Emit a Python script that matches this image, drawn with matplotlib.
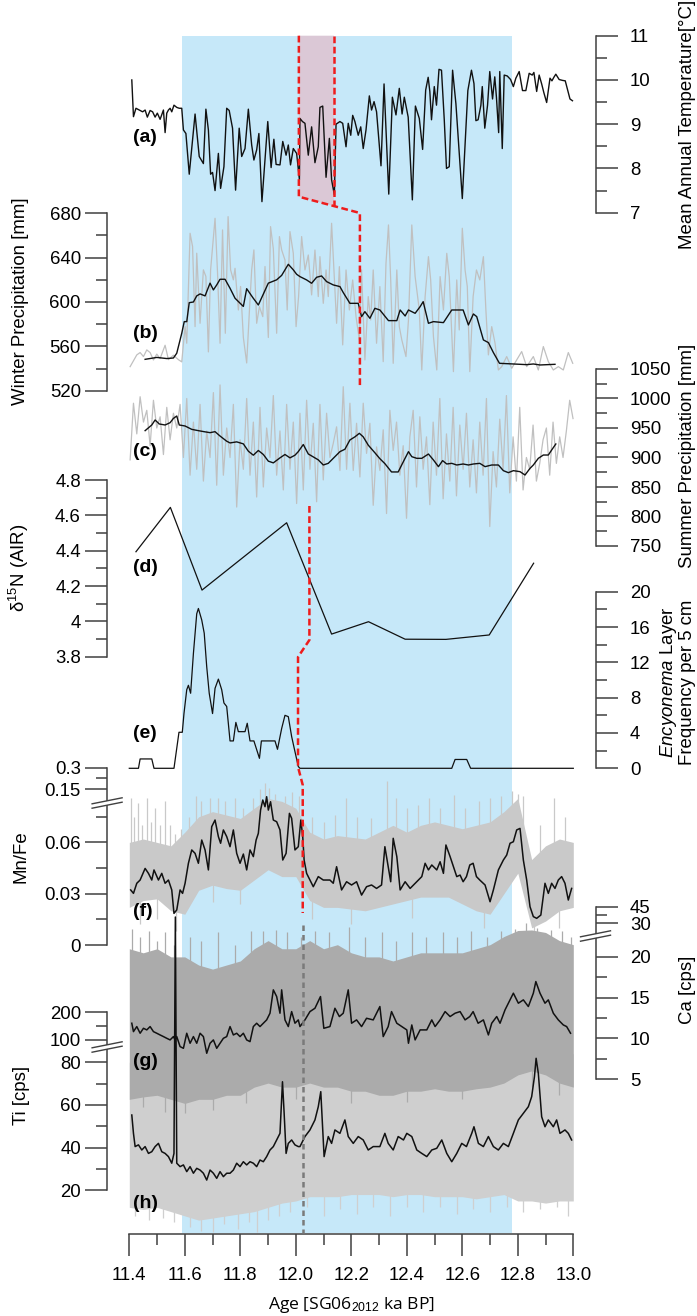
import matplotlib
matplotlib.use("Agg")
import matplotlib.pyplot as plt
import numpy as np

plt.rcParams["font.family"] = ["Liberation Sans", "DejaVu Sans"]
plt.rcParams["mathtext.fontset"] = "custom"
plt.rcParams["mathtext.rm"] = "Liberation Sans"
plt.rcParams["mathtext.it"] = "Liberation Sans:italic"
plt.rcParams["mathtext.bf"] = "Liberation Sans:bold"

# ---------------- data (age in ka BP, value) ----------------
# (a) mean annual temperature [degC]
mat_a = [(11.409, 10.00), (11.415, 9.17), (11.424, 9.36), (11.436, 9.32), (11.448, 9.28), (11.457, 9.32),
         (11.465, 9.16), (11.475, 9.31), (11.484, 9.28), (11.493, 9.16), (11.501, 9.25), (11.511, 9.11),
         (11.523, 9.32), (11.529, 8.81), (11.535, 9.25), (11.541, 9.32), (11.547, 9.36), (11.553, 9.28),
         (11.561, 9.43), (11.571, 9.38), (11.580, 9.36), (11.589, 9.36), (11.595, 8.87), (11.604, 8.79),
         (11.616, 7.87), (11.637, 9.23), (11.652, 8.27), (11.667, 8.11), (11.676, 9.34), (11.685, 8.87),
         (11.693, 7.87), (11.700, 7.91), (11.709, 7.50), (11.721, 8.34), (11.729, 7.55), (11.741, 8.04),
         (11.751, 9.36), (11.760, 9.31), (11.772, 8.91), (11.783, 7.51), (11.796, 8.91), (11.805, 8.27),
         (11.817, 8.45), (11.829, 9.34), (11.841, 8.53), (11.849, 8.19), (11.859, 8.42), (11.867, 8.79),
         (11.878, 7.25), (11.899, 9.06), (11.911, 8.02), (11.921, 8.66), (11.929, 8.09), (11.943, 8.08),
         (11.953, 8.61), (11.965, 8.30), (11.973, 8.53), (11.981, 8.08), (11.991, 8.45), (12.003, 8.34),
         (12.013, 7.75), (12.015, 9.13), (12.024, 9.06), (12.033, 9.02), (12.045, 8.30), (12.057, 8.94),
         (12.069, 8.13), (12.081, 8.49), (12.087, 9.38), (12.097, 9.41), (12.109, 7.80), (12.121, 8.68),
         (12.129, 7.74), (12.139, 7.40), (12.145, 9.00), (12.159, 9.06), (12.169, 9.02), (12.181, 8.49),
         (12.189, 9.02), (12.198, 8.75), (12.205, 9.20), (12.213, 9.06), (12.225, 8.75), (12.234, 8.94),
         (12.243, 8.45), (12.253, 8.87), (12.265, 9.64), (12.273, 9.32), (12.282, 9.51), (12.291, 9.28),
         (12.307, 8.06), (12.318, 9.91), (12.335, 7.42), (12.348, 9.61), (12.361, 9.21), (12.373, 9.81),
         (12.383, 9.23), (12.391, 9.61), (12.405, 9.16), (12.420, 7.29), (12.431, 9.41), (12.445, 9.13),
         (12.457, 8.43), (12.468, 9.77), (12.477, 10.06), (12.483, 9.74), (12.489, 9.10), (12.499, 9.85),
         (12.507, 9.43), (12.516, 10.24), (12.525, 10.22), (12.535, 9.10), (12.543, 8.00), (12.553, 8.04),
         (12.565, 10.22), (12.577, 9.46), (12.600, 7.32), (12.620, 9.76), (12.633, 10.22), (12.642, 9.92),
         (12.649, 9.08), (12.657, 9.10), (12.667, 9.43), (12.672, 9.85), (12.681, 8.91), (12.691, 9.43),
         (12.699, 10.19), (12.709, 9.57), (12.717, 10.07), (12.723, 9.61), (12.731, 8.81), (12.735, 10.19),
         (12.744, 8.45), (12.751, 10.11), (12.762, 10.09), (12.774, 10.01), (12.784, 9.85), (12.793, 10.04),
         (12.805, 10.19), (12.817, 9.76), (12.829, 9.76), (12.841, 10.15), (12.852, 10.11), (12.858, 10.17),
         (12.868, 9.74), (12.877, 10.11), (12.886, 9.91), (12.894, 9.71), (12.904, 9.49), (12.916, 10.04),
         (12.923, 9.98), (12.930, 10.06), (12.937, 10.13), (12.949, 10.01), (12.961, 9.99), (12.971, 9.98),
         (12.988, 9.57), (12.997, 9.53)]

# (b) winter precipitation [mm], raw and smoothed
winter_raw = [(11.403, 541.7), (11.427, 552.3), (11.439, 554.4), (11.451, 550.8), (11.463, 556.8), (11.475, 554.4),
              (11.487, 547.7), (11.499, 553.0), (11.511, 549.0), (11.529, 561.0), (11.541, 548.0), (11.559, 552.0),
              (11.577, 548.0), (11.589, 546.0), (11.601, 577.8), (11.607, 562.8), (11.619, 662.0), (11.628, 650.0),
              (11.637, 577.8), (11.643, 644.0), (11.655, 580.8), (11.667, 629.0), (11.676, 623.0), (11.685, 555.0),
              (11.693, 629.0), (11.709, 675.5), (11.718, 626.0), (11.727, 562.8), (11.736, 665.0), (11.746, 571.8),
              (11.756, 677.0), (11.765, 629.0), (11.775, 620.0), (11.781, 630.4), (11.793, 592.8), (11.801, 614.0),
              (11.811, 568.0), (11.823, 545.0), (11.833, 592.8), (11.841, 629.0), (11.849, 647.0), (11.859, 580.8),
              (11.869, 595.8), (11.881, 586.8), (11.889, 632.0), (11.901, 568.0), (11.909, 668.0), (11.919, 648.0),
              (11.931, 571.8), (11.941, 659.0), (11.949, 647.0), (11.961, 637.9), (11.969, 592.8), (11.979, 663.5),
              (11.991, 643.9), (12.001, 577.8), (12.010, 604.9), (12.021, 659.0), (12.033, 628.9), (12.045, 642.4),
              (12.057, 606.4), (12.069, 646.9), (12.081, 604.9), (12.087, 640.9), (12.099, 598.8), (12.109, 628.9),
              (12.117, 604.9), (12.129, 671.0), (12.139, 619.9), (12.147, 580.8), (12.157, 631.9), (12.169, 561.3),
              (12.181, 628.9), (12.193, 592.8), (12.205, 619.9), (12.217, 586.8), (12.229, 565.8), (12.237, 628.9),
              (12.249, 547.7), (12.261, 604.9), (12.270, 583.8), (12.279, 628.9), (12.291, 562.8), (12.303, 613.9),
              (12.315, 546.2), (12.325, 634.9), (12.334, 669.5), (12.342, 619.9), (12.351, 544.7), (12.364, 628.9),
              (12.373, 577.8), (12.382, 565.8), (12.397, 550.8), (12.406, 583.8), (12.418, 669.5), (12.430, 622.9),
              (12.445, 592.8), (12.454, 538.7), (12.466, 604.9), (12.478, 640.9), (12.486, 619.9), (12.496, 568.8),
              (12.508, 538.7), (12.520, 622.9), (12.532, 592.8), (12.544, 643.9), (12.553, 622.9), (12.568, 537.2),
              (12.580, 619.9), (12.589, 574.8), (12.600, 666.5), (12.610, 628.9), (12.618, 613.9), (12.627, 537.2),
              (12.639, 604.9), (12.651, 628.9), (12.663, 619.9), (12.676, 640.9), (12.685, 592.8), (12.694, 552.3),
              (12.706, 577.8), (12.718, 562.8), (12.730, 538.7), (12.742, 541.7), (12.760, 550.8), (12.778, 540.2),
              (12.796, 547.7), (12.814, 555.3), (12.832, 541.7), (12.856, 550.8), (12.874, 538.7), (12.892, 559.8),
              (12.910, 546.2), (12.928, 538.7), (12.946, 541.7), (12.964, 538.7), (12.982, 554.4), (12.998, 544.7)]
winter_mean = [(11.457, 548.3), (11.499, 550.0), (11.535, 549.0), (11.559, 549.5), (11.571, 553.8), (11.589, 571.8),
               (11.598, 582.3), (11.607, 582.3), (11.616, 599.4), (11.631, 600.0), (11.643, 605.5), (11.655, 607.3),
               (11.673, 605.5), (11.691, 617.0), (11.703, 610.9), (11.715, 615.4), (11.727, 620.5), (11.745, 620.5),
               (11.763, 612.4), (11.781, 603.4), (11.811, 596.0), (11.823, 612.0), (11.845, 604.0), (11.865, 597.3),
               (11.901, 617.0), (11.931, 620.0), (11.949, 624.0), (11.973, 634.0), (11.991, 629.0), (12.003, 625.0),
               (12.015, 622.9), (12.039, 619.9), (12.057, 616.9), (12.075, 622.3), (12.093, 623.5), (12.111, 618.4),
               (12.135, 615.4), (12.159, 613.9), (12.171, 608.5), (12.195, 598.8), (12.225, 598.8), (12.237, 586.8),
               (12.249, 591.3), (12.267, 585.3), (12.285, 594.3), (12.303, 592.8), (12.334, 583.2), (12.364, 583.2),
               (12.376, 592.8), (12.394, 587.4), (12.406, 592.8), (12.430, 589.8), (12.448, 595.8), (12.459, 600.3),
               (12.478, 580.8), (12.496, 582.3), (12.532, 581.4), (12.562, 592.8), (12.603, 592.8), (12.622, 579.3),
               (12.640, 589.2), (12.652, 586.8), (12.676, 565.8), (12.694, 563.4), (12.712, 554.4), (12.734, 544.7),
               (12.784, 544.1), (12.832, 543.5), (12.856, 544.1), (12.880, 543.2), (12.934, 543.8)]

# (c) summer precipitation [mm], raw and smoothed
summer_raw = [(11.403, 896), (11.415, 992), (11.427, 940), (11.439, 1003), (11.451, 960), (11.463, 980),
              (11.475, 920), (11.487, 997), (11.499, 950), (11.511, 969), (11.523, 905), (11.535, 985),
              (11.547, 930), (11.559, 975), (11.571, 950), (11.583, 990), (11.595, 900), (11.607, 1000),
              (11.619, 870), (11.631, 960), (11.643, 880), (11.655, 990), (11.667, 860), (11.679, 945),
              (11.691, 900), (11.703, 1010), (11.715, 853), (11.727, 1023), (11.739, 870), (11.751, 950),
              (11.763, 900), (11.775, 990), (11.787, 816), (11.799, 930), (11.811, 880), (11.823, 1000),
              (11.835, 870), (11.847, 960), (11.859, 833), (11.871, 985), (11.883, 850), (11.895, 950),
              (11.907, 900), (11.919, 1005), (11.931, 870), (11.943, 945), (11.955, 845), (11.967, 990),
              (11.979, 880), (11.991, 960), (12.003, 822), (12.015, 975), (12.027, 845), (12.039, 997),
              (12.051, 880), (12.063, 958), (12.075, 825), (12.087, 990), (12.099, 862), (12.111, 975),
              (12.123, 900), (12.135, 924), (12.147, 952), (12.159, 878), (12.171, 1020), (12.183, 880),
              (12.195, 992), (12.207, 878), (12.219, 958), (12.231, 867), (12.243, 992), (12.255, 907),
              (12.267, 958), (12.279, 819), (12.291, 918), (12.303, 878), (12.315, 947), (12.327, 805),
              (12.339, 980), (12.351, 912), (12.363, 960), (12.375, 870), (12.387, 920), (12.399, 797),
              (12.411, 935), (12.423, 980), (12.435, 850), (12.447, 969), (12.459, 880), (12.471, 935),
              (12.483, 820), (12.495, 960), (12.507, 870), (12.519, 1000), (12.531, 830), (12.543, 940),
              (12.555, 860), (12.567, 985), (12.579, 835), (12.591, 955), (12.603, 880), (12.615, 975),
              (12.627, 850), (12.639, 930), (12.651, 840), (12.663, 960), (12.675, 870), (12.687, 1000),
              (12.699, 783), (12.711, 910), (12.723, 850), (12.735, 965), (12.747, 880), (12.759, 1005),
              (12.771, 840), (12.783, 935), (12.795, 860), (12.807, 985), (12.819, 845), (12.831, 900),
              (12.843, 880), (12.855, 955), (12.867, 860), (12.879, 890), (12.891, 930), (12.903, 950),
              (12.915, 870), (12.927, 960), (12.939, 890), (12.951, 935), (12.963, 900), (12.975, 945),
              (12.987, 997), (12.999, 966)]
summer_mean = [(11.457, 945.5), (11.481, 955.1), (11.493, 963.6), (11.508, 956.8), (11.529, 955.1), (11.547, 959.0),
               (11.559, 966.3), (11.571, 970.3), (11.580, 955.1), (11.601, 953.4), (11.625, 947.7), (11.649, 945.5),
               (11.669, 943.8), (11.691, 942.1), (11.709, 943.8), (11.727, 936.4), (11.751, 927.6), (11.763, 924.7),
               (11.787, 926.5), (11.811, 923.1), (11.829, 910.7), (11.847, 903.9), (11.865, 911.9), (11.883, 905.1),
               (11.901, 893.8), (11.919, 890.9), (11.943, 899.4), (11.961, 905.1), (11.979, 899.4), (11.997, 903.9),
               (12.009, 910.0), (12.027, 922.0), (12.045, 906.0), (12.063, 901.0), (12.081, 896.0), (12.099, 887.3),
               (12.117, 890.1), (12.135, 898.6), (12.159, 909.9), (12.177, 914.0), (12.195, 929.7), (12.213, 935.0),
               (12.229, 941.0), (12.243, 935.0), (12.261, 921.0), (12.285, 908.0), (12.303, 898.0), (12.321, 889.6),
               (12.345, 875.5), (12.369, 875.5), (12.387, 892.4), (12.406, 909.9), (12.418, 901.4), (12.436, 898.6),
               (12.454, 898.6), (12.478, 905.9), (12.496, 895.8), (12.514, 884.5), (12.529, 894.7), (12.544, 889.0),
               (12.562, 890.1), (12.580, 887.3), (12.603, 889.0), (12.622, 887.3), (12.640, 889.0), (12.663, 890.1),
               (12.682, 884.5), (12.706, 887.3), (12.730, 887.3), (12.748, 877.7), (12.766, 874.3), (12.784, 877.7),
               (12.808, 876.0), (12.826, 870.3), (12.844, 881.6), (12.856, 887.3), (12.874, 898.6), (12.892, 904.2),
               (12.910, 904.2), (12.922, 912.7), (12.937, 922.9)]

# (d) d15N (AIR)
d15n = [(11.424, 4.394), (11.548, 4.645), (11.662, 4.177), (11.967, 4.558), (12.129, 3.928),
        (12.262, 3.998), (12.394, 3.899), (12.541, 3.898), (12.697, 3.923), (12.857, 4.329)]

# (e) Encyonema layer frequency per 5 cm
encyonema = [(11.400, 0), (11.433, 0), (11.439, 1.06), (11.481, 1.06), (11.489, 0), (11.561, 0), (11.579, 4.08),
             (11.591, 4.08), (11.597, 6.2), (11.607, 8.9), (11.613, 9.4), (11.621, 8.5), (11.631, 13.0),
             (11.643, 17.5), (11.649, 18.1), (11.661, 16.8), (11.670, 15.3), (11.679, 11.5), (11.688, 8.5),
             (11.700, 6.2), (11.709, 9.06), (11.721, 10.1), (11.733, 8.9), (11.741, 7.4), (11.751, 7.0),
             (11.763, 3.1), (11.775, 3.1), (11.784, 5.2), (11.793, 4.15), (11.817, 4.15), (11.825, 5.1),
             (11.835, 3.1), (11.849, 3.1), (11.869, 1.13), (11.876, 3.1), (11.925, 3.1), (11.934, 2.15),
             (11.949, 4.5), (11.961, 6.0), (11.973, 5.85), (11.985, 3.6), (11.993, 2.45), (12.009, 0.2),
             (12.015, 0), (12.562, 0), (12.574, 1.0), (12.616, 1.0), (12.630, 0), (13.000, 0)]

# (f) Mn/Fe smoothed
mnfe = [(11.405, 0.0322), (11.415, 0.0302), (11.427, 0.0361), (11.439, 0.0380), (11.457, 0.0448), (11.469, 0.0419),
        (11.481, 0.0380), (11.489, 0.0439), (11.505, 0.0380), (11.517, 0.0419), (11.529, 0.0361), (11.541, 0.0380),
        (11.553, 0.0322), (11.561, 0.0185), (11.571, 0.0205), (11.583, 0.0322), (11.592, 0.0302), (11.601, 0.0361),
        (11.613, 0.0478), (11.625, 0.0556), (11.637, 0.0536), (11.649, 0.0478), (11.661, 0.0614), (11.673, 0.0556),
        (11.685, 0.0439), (11.697, 0.0692), (11.709, 0.0731), (11.721, 0.0634), (11.729, 0.0595), (11.739, 0.0673),
        (11.751, 0.0634), (11.763, 0.0575), (11.775, 0.0673), (11.787, 0.0536), (11.799, 0.0478), (11.811, 0.0532),
        (11.823, 0.0439), (11.835, 0.0556), (11.847, 0.0517), (11.857, 0.0614), (11.865, 0.0653), (11.873, 0.0789),
        (11.881, 0.0848), (11.889, 0.0809), (11.895, 0.0980), (11.901, 0.0789), (11.909, 0.0838), (11.919, 0.0731),
        (11.931, 0.0721), (11.943, 0.0673), (11.953, 0.0497), (11.965, 0.0536), (11.977, 0.0770), (11.985, 0.0741),
        (11.997, 0.0556), (12.009, 0.0575), (12.018, 0.0731), (12.025, 0.0634), (12.030, 0.0497), (12.039, 0.0419),
        (12.051, 0.0380), (12.063, 0.0341), (12.081, 0.0400), (12.099, 0.0380), (12.123, 0.0380), (12.135, 0.0361),
        (12.147, 0.0458), (12.165, 0.0322), (12.183, 0.0370), (12.201, 0.0351), (12.219, 0.0370), (12.237, 0.0292),
        (12.255, 0.0341), (12.273, 0.0351), (12.291, 0.0331), (12.309, 0.0351), (12.321, 0.0575), (12.333, 0.0458),
        (12.342, 0.0370), (12.351, 0.0624), (12.364, 0.0517), (12.376, 0.0322), (12.394, 0.0370), (12.412, 0.0331),
        (12.436, 0.0370), (12.454, 0.0400), (12.466, 0.0478), (12.478, 0.0439), (12.490, 0.0468), (12.508, 0.0439),
        (12.520, 0.0487), (12.532, 0.0419), (12.541, 0.0585), (12.556, 0.0517), (12.568, 0.0458), (12.580, 0.0400),
        (12.592, 0.0409), (12.603, 0.0370), (12.615, 0.0400), (12.627, 0.0468), (12.639, 0.0478), (12.651, 0.0400),
        (12.663, 0.0380), (12.682, 0.0351), (12.700, 0.0253), (12.712, 0.0322), (12.730, 0.0439), (12.748, 0.0497),
        (12.760, 0.0526), (12.772, 0.0595), (12.784, 0.0604), (12.796, 0.0673), (12.808, 0.0682), (12.820, 0.0497),
        (12.832, 0.0380), (12.844, 0.0224), (12.856, 0.0166), (12.868, 0.0156), (12.883, 0.0175), (12.898, 0.0361),
        (12.910, 0.0302), (12.922, 0.0361), (12.934, 0.0331), (12.946, 0.0380), (12.958, 0.0400), (12.970, 0.0361),
        (12.982, 0.0263), (12.994, 0.0331)]

# (g) Ca [cps] smoothed
ca = [(11.409, 11.85), (11.415, 10.82), (11.427, 11.44), (11.439, 10.62), (11.451, 11.23), (11.463, 11.03),
      (11.475, 11.44), (11.487, 10.82), (11.499, 10.62), (11.511, 10.41), (11.523, 10.21), (11.535, 10.00),
      (11.547, 9.80), (11.559, 10.21), (11.565, 9.80), (11.571, 10.21), (11.583, 8.98), (11.595, 8.77),
      (11.607, 10.62), (11.619, 9.39), (11.631, 10.21), (11.643, 9.39), (11.655, 10.62), (11.667, 10.21),
      (11.679, 8.16), (11.691, 9.39), (11.703, 9.80), (11.715, 8.77), (11.727, 9.39), (11.739, 10.00),
      (11.751, 10.21), (11.763, 11.44), (11.775, 10.41), (11.787, 10.62), (11.799, 10.21), (11.811, 10.62),
      (11.823, 9.80), (11.835, 9.59), (11.847, 11.44), (11.859, 11.85), (11.871, 11.44), (11.883, 11.85),
      (11.895, 12.26), (11.907, 13.08), (11.919, 15.95), (11.931, 15.13), (11.943, 13.08), (11.949, 15.95),
      (11.961, 12.26), (11.973, 11.44), (11.985, 13.28), (11.997, 11.85), (12.009, 12.26), (12.015, 11.44),
      (12.033, 12.26), (12.051, 13.28), (12.069, 13.69), (12.089, 15.13), (12.101, 11.23), (12.123, 11.44),
      (12.141, 13.69), (12.157, 12.67), (12.171, 13.08), (12.189, 15.95), (12.201, 11.85), (12.219, 12.26),
      (12.237, 11.44), (12.255, 12.46), (12.279, 12.26), (12.303, 13.90), (12.315, 10.21), (12.333, 11.44),
      (12.345, 13.28), (12.364, 11.85), (12.382, 11.44), (12.400, 11.03), (12.406, 9.39), (12.418, 11.64),
      (12.430, 9.80), (12.448, 11.03), (12.472, 11.03), (12.490, 12.26), (12.502, 11.44), (12.520, 12.26),
      (12.538, 13.28), (12.556, 12.67), (12.574, 13.08), (12.592, 13.28), (12.610, 12.26), (12.627, 12.67),
      (12.639, 13.28), (12.657, 11.85), (12.676, 12.26), (12.694, 10.41), (12.706, 11.85), (12.724, 12.67),
      (12.736, 11.85), (12.754, 13.49), (12.772, 14.72), (12.784, 15.54), (12.802, 14.31), (12.820, 14.72),
      (12.838, 13.90), (12.856, 15.54), (12.865, 16.97), (12.880, 15.54), (12.898, 14.31), (12.910, 14.72),
      (12.928, 13.08), (12.946, 12.26), (12.964, 11.64), (12.976, 11.44), (12.990, 10.62)]

# (h) Ti [cps] smoothed
ti = [(11.409, 55.3), (11.415, 46.7), (11.421, 40.5), (11.433, 41.3), (11.445, 38.9), (11.457, 40.5),
      (11.469, 37.3), (11.481, 38.1), (11.493, 40.5), (11.505, 42.0), (11.517, 38.1), (11.529, 37.3),
      (11.541, 35.8), (11.553, 32.7), (11.561, 37.3), (11.566, 545.0), (11.571, 32.7), (11.583, 31.1),
      (11.595, 31.9), (11.607, 28.75), (11.619, 31.1), (11.631, 28.0), (11.643, 30.3), (11.655, 29.5),
      (11.667, 28.0), (11.679, 24.8), (11.691, 29.5), (11.703, 28.0), (11.715, 25.6), (11.727, 28.75),
      (11.739, 26.4), (11.751, 28.0), (11.763, 28.0), (11.775, 29.5), (11.787, 32.7), (11.799, 31.1),
      (11.811, 33.4), (11.823, 31.9), (11.835, 33.4), (11.847, 32.7), (11.859, 31.1), (11.871, 34.2),
      (11.883, 33.4), (11.895, 35.8), (11.907, 38.9), (11.919, 40.5), (11.931, 43.6), (11.943, 46.7),
      (11.952, 70.9), (11.958, 56.1), (11.965, 37.3), (11.973, 42.0), (11.985, 43.6), (11.997, 41.3),
      (12.009, 40.5), (12.015, 40.5), (12.033, 45.2), (12.051, 48.3), (12.069, 53.0), (12.081, 59.2),
      (12.090, 66.25), (12.102, 35.8), (12.117, 45.2), (12.129, 42.0), (12.141, 48.3), (12.159, 46.7),
      (12.177, 53.0), (12.189, 45.2), (12.207, 42.0), (12.225, 45.2), (12.243, 43.6), (12.261, 38.9),
      (12.279, 40.5), (12.303, 40.5), (12.321, 46.7), (12.333, 42.0), (12.351, 38.9), (12.369, 45.2),
      (12.388, 43.6), (12.400, 46.7), (12.418, 45.2), (12.436, 38.9), (12.454, 37.3), (12.472, 35.8),
      (12.490, 38.9), (12.508, 39.7), (12.526, 43.6), (12.544, 37.3), (12.562, 33.4), (12.580, 37.3),
      (12.598, 42.0), (12.615, 40.5), (12.634, 46.7), (12.642, 49.8), (12.658, 42.0), (12.676, 40.5),
      (12.694, 45.2), (12.712, 40.5), (12.730, 38.9), (12.748, 42.0), (12.766, 40.5), (12.784, 46.7),
      (12.802, 53.0), (12.820, 56.1), (12.838, 59.2), (12.850, 63.9), (12.860, 73.3), (12.866, 81.9),
      (12.874, 74.8), (12.886, 54.5), (12.898, 49.8), (12.910, 53.0), (12.928, 49.8), (12.940, 53.0),
      (12.952, 46.7), (12.970, 48.3), (12.982, 46.7), (12.994, 43.6)]

# spread of the raw XRF scans (upper / lower envelope)
band_age = [11.40, 11.45, 11.50, 11.55, 11.60, 11.65, 11.70, 11.75, 11.80, 11.85, 11.90, 11.95, 12.00,
            12.05, 12.10, 12.15, 12.20, 12.25, 12.30, 12.35, 12.40, 12.45, 12.50, 12.55, 12.60, 12.65,
            12.70, 12.75, 12.80, 12.85, 12.90, 12.95, 13.00]
mnfe_hi = [0.060, 0.062, 0.060, 0.058, 0.066, 0.075, 0.078, 0.076, 0.074, 0.080, 0.086, 0.084, 0.080,
           0.066, 0.062, 0.064, 0.063, 0.062, 0.066, 0.070, 0.066, 0.070, 0.072, 0.070, 0.068, 0.070,
           0.072, 0.078, 0.086, 0.050, 0.058, 0.062, 0.060]
mnfe_lo = [0.022, 0.026, 0.027, 0.020, 0.018, 0.032, 0.035, 0.033, 0.032, 0.038, 0.044, 0.040, 0.040,
           0.026, 0.022, 0.022, 0.021, 0.020, 0.022, 0.024, 0.026, 0.028, 0.028, 0.028, 0.024, 0.020,
           0.018, 0.030, 0.042, 0.010, 0.014, 0.020, 0.022]
ca_hi = [21, 20.5, 21, 20, 20, 19, 18.5, 19, 19.5, 21, 22, 21, 21, 22, 21, 21.5, 20.5, 20, 20, 19.5,
         20, 20.5, 20.5, 20.5, 20.5, 21, 21.5, 22.5, 23.5, 24, 23, 22, 21.5]
ca_lo = [2.5, 2.8, 3.0, 2.5, 2.0, 2.5, 2.5, 3.0, 3.0, 4.0, 4.5, 4.0, 4.0, 4.5, 4.0, 4.0, 3.5, 3.5, 3.0,
         3.0, 3.5, 3.5, 3.8, 3.5, 3.5, 3.8, 4.0, 4.5, 5.5, 6.0, 5.5, 4.5, 4.0]
ti_hi = [80, 78, 78, 80, 72, 70, 70, 72, 72, 75, 76, 80, 78, 80, 76, 76, 75, 74, 75, 74, 75, 76, 75,
         75, 75, 76, 76, 80, 88, 95, 90, 85, 84]
ti_lo = [12, 11, 12, 10, 8, 6, 7, 8, 9, 10, 12, 14, 15, 17, 17, 17, 18, 18, 18, 17, 18, 18, 17, 17, 17,
         16, 17, 18, 15, 15, 14, 15, 15]

# single extreme scans sticking out of the spread
mnfe_spikes = [(11.405, 0.086), (11.418, 0.075), (11.432, 0.083), (11.447, 0.070), (11.462, 0.086),
               (11.478, 0.072), (11.494, 0.080), (11.512, 0.070), (11.527, 0.084), (11.545, 0.070),
               (11.563, 0.065), (11.585, 0.068), (11.615, 0.075), (11.640, 0.100), (11.660, 0.084),
               (11.690, 0.086), (11.720, 0.090), (11.745, 0.084), (11.780, 0.086), (11.810, 0.080),
               (11.845, 0.086), (11.870, 0.150), (11.890, 0.190), (11.905, 0.160), (11.925, 0.120),
               (11.960, 0.100), (11.985, 0.130), (12.010, 0.100), (12.060, 0.075), (12.100, 0.072),
               (12.140, 0.076), (12.180, 0.090), (12.220, 0.075), (12.270, 0.074), (12.330, 0.210),
               (12.360, 0.086), (12.400, 0.080), (12.440, 0.082), (12.480, 0.086), (12.520, 0.080),
               (12.570, 0.110), (12.610, 0.080), (12.660, 0.084), (12.700, 0.086), (12.740, 0.100),
               (12.780, 0.140), (12.800, 0.120), (12.820, 0.100), (12.880, 0.070), (12.930, 0.086),
               (12.970, 0.075), (11.440, 0.012), (11.500, 0.015), (11.570, 0.008), (11.700, 0.025),
               (11.800, 0.024), (12.060, 0.015), (12.200, 0.012), (12.420, 0.016), (12.680, 0.010),
               (12.860, 0.004), (12.950, 0.010)]
ca_spikes = [(11.410, 25.0), (11.440, 22.5), (11.470, 23.3), (11.500, 22.0), (11.530, 23.0), (11.560, 21.5),
             (11.620, 22.5), (11.660, 22.0), (11.720, 23.0), (11.780, 21.5), (11.840, 23.5), (11.880, 23.3),
             (11.930, 24.0), (11.970, 23.0), (12.020, 22.5), (12.070, 23.5), (12.120, 23.0), (12.190, 27.0),
             (12.250, 22.5), (12.310, 23.0), (12.360, 22.0), (12.420, 23.0), (12.470, 22.5), (12.530, 23.0),
             (12.580, 22.5), (12.630, 23.3), (12.690, 22.5), (12.740, 23.5), (12.790, 25.0), (12.830, 30.0),
             (12.870, 26.0), (12.920, 24.0), (12.960, 23.3), (12.990, 22.5), (11.450, 1.5), (11.530, 1.0),
             (11.600, 0.8), (11.700, 1.2), (11.820, 2.0), (12.000, 2.5), (12.200, 2.0), (12.400, 2.2),
             (12.600, 2.5), (12.850, 4.0), (12.950, 3.0)]
ti_spikes = [(11.420, 8), (11.470, 6), (11.520, 7), (11.560, 5), (11.620, 3), (11.660, 1), (11.700, 0.6),
             (11.740, 4), (11.790, 2), (11.830, 5), (11.860, 0.6), (11.900, 6), (11.940, 8), (11.980, 10),
             (12.040, 12), (12.100, 8), (12.160, 11), (12.220, 9), (12.280, 12), (12.340, 8), (12.400, 12),
             (12.460, 10), (12.520, 12), (12.580, 9), (12.640, 11), (12.700, 10), (12.760, 12), (12.820, 10),
             (12.880, 11), (12.940, 12), (12.980, 8)]

# Younger Dryas interval (blue)
yd_start, yd_end = 11.591, 12.778

# ---------------- layout ----------------
W, H = 697, 1316
X0, X1 = 129.3, 573.3
AXC = "#404040"
BLACK = "#111111"
RAW = "#c0c0c0"
FS = 13.4

fig = plt.figure(figsize=(W / 100, H / 100), dpi=100)


def frame(top, bottom, z):
    ax = fig.add_axes([X0 / W, 1 - bottom / H, (X1 - X0) / W, (bottom - top) / H], zorder=z)
    ax.patch.set_visible(False)
    return ax


def broken(b, s):
    def fwd(v):
        v = np.asarray(v, dtype=float)
        return np.where(v <= b, v, b + (v - b) * s)

    def inv(u):
        u = np.asarray(u, dtype=float)
        return np.where(u <= b, u, b + (u - b) / s)
    return fwd, inv


def yaxis(ax, side, lim, major, minor, scale=None):
    if scale is not None:
        ax.set_yscale("function", functions=scale)
    ax.set_xlim(11.4, 13.0)
    ax.set_ylim(*lim)
    for s in ax.spines.values():
        s.set_visible(False)
    sp = ax.spines[side]
    sp.set_visible(True)
    sp.set_position(("outward", 16))
    sp.set_color(AXC)
    sp.set_linewidth(1.1)
    ax.tick_params(axis="x", which="both", bottom=False, top=False, labelbottom=False)
    if side == "right":
        ax.yaxis.tick_right()
    else:
        ax.yaxis.tick_left()
    ax.set_yticks(major)
    ax.set_yticks(minor, minor=True)
    ax.set_yticklabels([f"{v:g}" for v in major])
    ax.tick_params(axis="y", which="major", length=15.8, width=1.1, color=AXC,
                   labelsize=FS, pad=9 if side == "right" else 3)
    ax.tick_params(axis="y", which="minor", length=7.9, width=1.1, color=AXC)


def line(ax, pairs, color=BLACK, lw=1.0, z=3):
    x, y = np.array(pairs, dtype=float).T
    ax.plot(x, y, color=color, lw=lw, zorder=z, clip_on=False)


def spread(ax, lo, hi, spikes, color):
    ax.fill_between(band_age, lo, hi, color=color, lw=0, zorder=1, clip_on=False)
    x, y = np.array(spikes, dtype=float).T
    mid = (np.interp(x, band_age, lo) + np.interp(x, band_age, hi)) / 2
    ax.vlines(x, mid, y, color=color, lw=0.9, zorder=1, clip_on=False)


# background: blue interval and pink shading
back = fig.add_axes([X0 / W, 0, (X1 - X0) / W, 1], zorder=0)
back.set_xlim(11.4, 13.0)
back.set_ylim(H, 0)
back.axis("off")
back.fill_between([yd_start, yd_end], 35.7, 1233, color="#c6e8f9", lw=0)
back.fill([12.011, 12.137, 12.137, 12.011], [35.7, 35.7, 206.2, 196.7], color="#dbc8d6", lw=0)

# (a)
ax_a = frame(35.7, 212.7, 1)
yaxis(ax_a, "right", (7, 11), [7, 8, 9, 10, 11], [7.5, 8.5, 9.5, 10.5])
line(ax_a, mat_a)

# (b)
ax_b = frame(213.3, 390.7, 2)
yaxis(ax_b, "left", (520, 680), [520, 560, 600, 640, 680], [540, 580, 620, 660])
line(ax_b, winter_raw, RAW, 0.9, 2)
line(ax_b, winter_mean)

# (c)
ax_c = frame(369, 546, 3)
yaxis(ax_c, "right", (750, 1050), [750, 800, 850, 900, 950, 1000, 1050], [775, 825, 875, 925, 975, 1025])
line(ax_c, summer_raw, RAW, 0.9, 2)
line(ax_c, summer_mean)

# (d)
ax_d = frame(480, 656.7, 4)
yaxis(ax_d, "left", (3.8, 4.8), [3.8, 4.0, 4.2, 4.4, 4.6, 4.8], [3.9, 4.1, 4.3, 4.5, 4.7])
line(ax_d, d15n, lw=0.9)

# (e)
ax_e = frame(591.7, 768.3, 5)
yaxis(ax_e, "right", (0, 20), [0, 4, 8, 12, 16, 20], [2, 6, 10, 14, 18])
line(ax_e, encyonema, lw=0.9)

# (f)
ax_f = frame(767.7, 945, 6)
yaxis(ax_f, "left", (0, 0.3), [0, 0.03, 0.06, 0.15, 0.3], [0.015, 0.045, 0.075, 0.225],
      scale=broken(0.0857, 0.084))
spread(ax_f, mnfe_lo, mnfe_hi, mnfe_spikes, "#c9c9c9")
line(ax_f, mnfe, lw=1.1)

# (h) Ti spread sits under the Ca spread, Ti curve on top
ax_hs = frame(1012.3, 1190.3, 7)
yaxis(ax_hs, "left", (20, 200), [20, 40, 60, 80, 100, 200], [30, 50, 70, 150],
      scale=broken(89.1, 0.1295))
spread(ax_hs, ti_lo, ti_hi, ti_spikes, "#cfcfcf")
sp = ax_hs.spines["bottom"]
sp.set_visible(True)
sp.set_position(("outward", 31.5))
sp.set_color(AXC)
sp.set_linewidth(1.1)
ax_hs.tick_params(axis="x", which="both", bottom=True, labelbottom=True)
ax_hs.set_xticks([11.4, 11.6, 11.8, 12.0, 12.2, 12.4, 12.6, 12.8, 13.0])
ax_hs.set_xticks([11.5, 11.7, 11.9, 12.1, 12.3, 12.5, 12.7, 12.9], minor=True)
ax_hs.set_xticklabels([f"{v:.1f}" for v in ax_hs.get_xticks()])
ax_hs.tick_params(axis="x", which="major", length=15.8, width=1.1, color=AXC, labelsize=FS, pad=8)
ax_hs.tick_params(axis="x", which="minor", length=7.9, width=1.1, color=AXC)

# (g) Ca
ax_g = frame(906.7, 1079, 8)
yaxis(ax_g, "right", (5, 45), [5, 10, 15, 20, 30, 45], [7.5, 12.5, 17.5, 37.5],
      scale=broken(23.2, 0.136))
spread(ax_g, ca_lo, ca_hi, ca_spikes, "#ababab")
line(ax_g, ca, lw=1.1)

# Ti curve, same scale as the Ti spread, drawn above the Ca spread
ax_h = frame(1012.3, 1190.3, 9)
ax_h.set_yscale("function", functions=broken(89.1, 0.1295))
ax_h.set_xlim(11.4, 13.0)
ax_h.set_ylim(20, 200)
ax_h.axis("off")
line(ax_h, ti, lw=1.1)

# front guides: red dashed links and grey dotted line
front = fig.add_axes([X0 / W, 0, (X1 - X0) / W, 1], zorder=20)
front.set_xlim(11.4, 13.0)
front.set_ylim(H, 0)
front.axis("off")
red = dict(color="#ee1c1c", lw=1.8, ls=(0, (2.7, 1.4)), solid_capstyle="butt")
front.plot([12.011, 12.011, 12.231, 12.231], [35.7, 196.7, 213, 388], **red)
front.plot([12.137, 12.137], [35.7, 206.2], **red)
front.plot([12.049, 12.049, 12.008, 12.008, 12.025, 12.025], [506, 640, 657, 767, 785, 913], **red)
front.plot([12.025, 12.025], [925, 1233], color="#7a7a7a", lw=1.8, ls=(0, (2.2, 1.6)))

# axis break marks (pixel overlay)
pix = fig.add_axes([0, 0, 1, 1], zorder=21)
pix.set_xlim(0, W)
pix.set_ylim(H, 0)
pix.axis("off")
for xc, yc in [(107.1, 803), (595.5, 936), (107.1, 1047)]:
    pix.fill([xc - 15, xc + 15, xc + 15, xc - 15], [yc + 1, yc - 5, yc - 1, yc + 5], color="white", lw=0)
    for off in (-2.2, 2.2):
        pix.plot([xc - 15, xc + 15], [yc + 3 + off, yc - 3 + off], color=AXC, lw=1.0)


def ftxt(x, y, s, **kw):
    fig.text(x / W, 1 - y / H, s, **kw)


for s, y in [("(a)", 138), ("(b)", 334), ("(c)", 452), ("(d)", 568),
             ("(e)", 733), ("(f)", 911), ("(g)", 1061), ("(h)", 1203)]:
    ftxt(133, y, s, fontsize=14, fontweight="bold", ha="left", va="center", zorder=30)

rot = dict(rotation=90, ha="center", va="center", fontsize=FS)
ftxt(21, 301, "Winter Precipitation [mm]", **rot)
ftxt(19, 568, r"δ$^{15}$N (AIR)", **rot)
ftxt(21, 857, "Mn/Fe", **rot)
ftxt(21, 1095, "Ti [cps]", **rot)
ftxt(688, 124, "Mean Annual Temperature[°C]", **rot)
ftxt(687, 456, "Summer Precipitation [mm]", **rot)
ftxt(677, 682, "$\\mathit{Encyonema}$ Layer\nFrequency per 5 cm", linespacing=1.05,
     multialignment="center", **rot)
ftxt(688, 990, "Ca [cps]", **rot)
ftxt(351, 1305, "Age [SG06$_{2012}$ ka BP]", fontsize=12.6, family="Open Sans", ha="center", va="center")

fig.savefig("out.png", dpi=100)
